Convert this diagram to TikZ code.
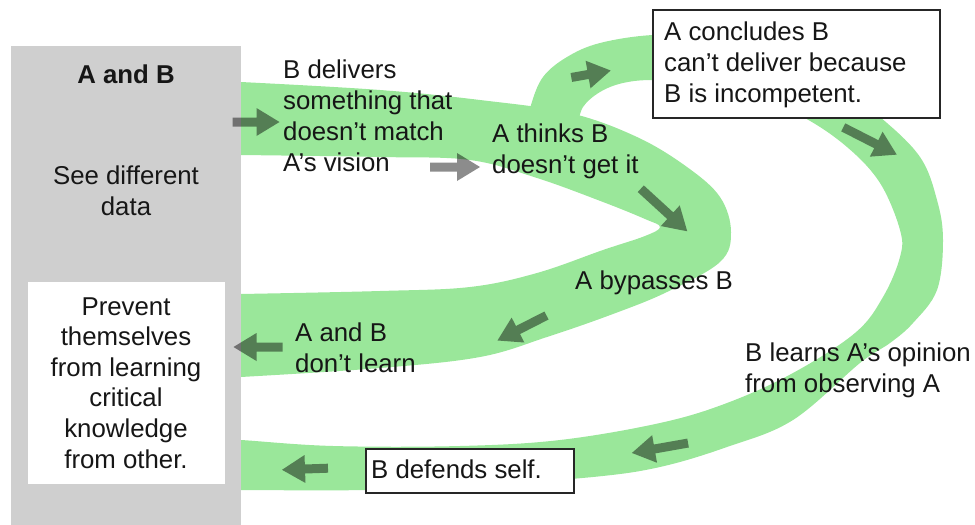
\documentclass[tikz,border=0pt]{standalone}
\usepackage{fontspec}
\setmainfont{Liberation Sans}
\definecolor{bandgreen}{RGB}{154,231,154}
\definecolor{boxgray}{RGB}{207,207,207}
\definecolor{txt}{RGB}{22,22,22}
\tikzset{
  band/.style={fill=bandgreen},
  lbl/.style={anchor=base west, inner sep=0pt, align=left, text=txt, font=\fontsize{25.8}{30.8}\selectfont},
  clbl/.style={anchor=base, inner sep=0pt, align=center, text=txt, font=\fontsize{25.8}{30.6}\selectfont},
  framed/.style={draw=black!85, line width=1.5pt, fill=white},
  pics/barrow/.style={code={
    \fill[black, fill opacity=0.45] (-#1/2,-4.5) -- (#1/2-23,-4.5) -- (#1/2-23,-14) -- (#1/2,0)
      -- (#1/2-23,14) -- (#1/2-23,4.5) -- (-#1/2,4.5) -- cycle;}}
}
\begin{document}
\begin{tikzpicture}[x=1pt, y=-1pt]
\useasboundingbox (0,0) rectangle (975,525);
% green bands
\fill[band] plot[smooth, tension=0.6] coordinates {(225,82) (241,82) (380,90) (480,100) (570,113) (637,137) (687,167) (720,197) (731,232) (720,262) (667,292) (613,314) (547,337) (480,357) (380,368) (241,377) (225,377)}
  -- plot[smooth, tension=0.6] coordinates {(225,294) (241,294) (380,291) (470,287) (537,273) (603,250) (645,236) (660,227) (645,219) (603,202) (537,178) (470,160) (380,157) (241,155) (225,155)} -- cycle;
\fill[band] plot[smooth, tension=0.6] coordinates {(528,125) (531,105) (543,77) (567,57) (600,43) (653,35) (710,37) (770,50) (830,80) (880,117) (920,157) (937,200) (943,240) (937,290) (913,323) (890,343) (860,363) (793,420) (727,447) (660,467) (593,477) (480,485) (365,490) (241,490) (225,490)}
  -- plot[smooth, tension=0.6] coordinates {(225,440) (241,440) (333,446) (460,446) (560,440) (660,423) (727,403) (793,373) (855,333) (883,297) (900,257) (900,230) (880,183) (847,147) (803,117) (750,95) (700,83) (653,80) (623,83) (600,92) (583,107) (578,125)} -- cycle;
% gray panel
\node[fill=boxgray, inner sep=0pt, minimum width=230pt, minimum height=479pt, anchor=north west] (panel) at (11,46) {};
\node[fill=white, inner sep=0pt, minimum width=197pt, minimum height=202pt, anchor=north west] (wbox) at (28,282) {};
\node[clbl, font=\fontsize{25.8}{30.6}\selectfont\bfseries] (ab) at (126,83) {A and B};
\node[clbl] (see) at (126,215) {See different\\data};
\node[clbl] (prev) at (126,468) {Prevent\\themselves\\from learning\\critical\\knowledge\\from other.};
% arrows
\pic[rotate=0] at (256,122) {barrow=47};
\pic[rotate=0] at (455,167) {barrow=50};
\pic[rotate=10] at (591,74) {barrow=40};
\pic[rotate=-27] at (870,141) {barrow=60};
\pic[rotate=-42.5] at (664,210) {barrow=63};
\pic[rotate=207] at (522,328) {barrow=55};
\pic[rotate=180] at (258,347) {barrow=49};
\pic[rotate=190] at (660,448) {barrow=57};
\pic[rotate=182] at (305,469) {barrow=46};
% labels
\node[lbl] (deliv) at (283,171) {B delivers\\something that\\doesn’t match\\A’s vision};
\node[lbl] (thinks) at (492,173) {A thinks B\\doesn’t get it};
\node[framed, minimum width=287pt, minimum height=108pt, anchor=north west, inner sep=0pt] (concl) at (652,9) {};
\node[lbl] (concltxt) at (664,102) {A concludes B\\can’t deliver because\\B is incompetent.};
\node[lbl] (bypass) at (575,289) {A bypasses B};
\node[lbl] (learn) at (295,372) {A and B\\don’t learn};
\node[lbl] (blearn) at (745,392) {B learns A’s opinion\\from observing A};
\node[framed, minimum width=208pt, minimum height=44pt, anchor=north west, inner sep=0pt] (defend) at (365,448) {};
\node[lbl] (defendtxt) at (371,478) {B defends self.};
\end{tikzpicture}
\end{document}
